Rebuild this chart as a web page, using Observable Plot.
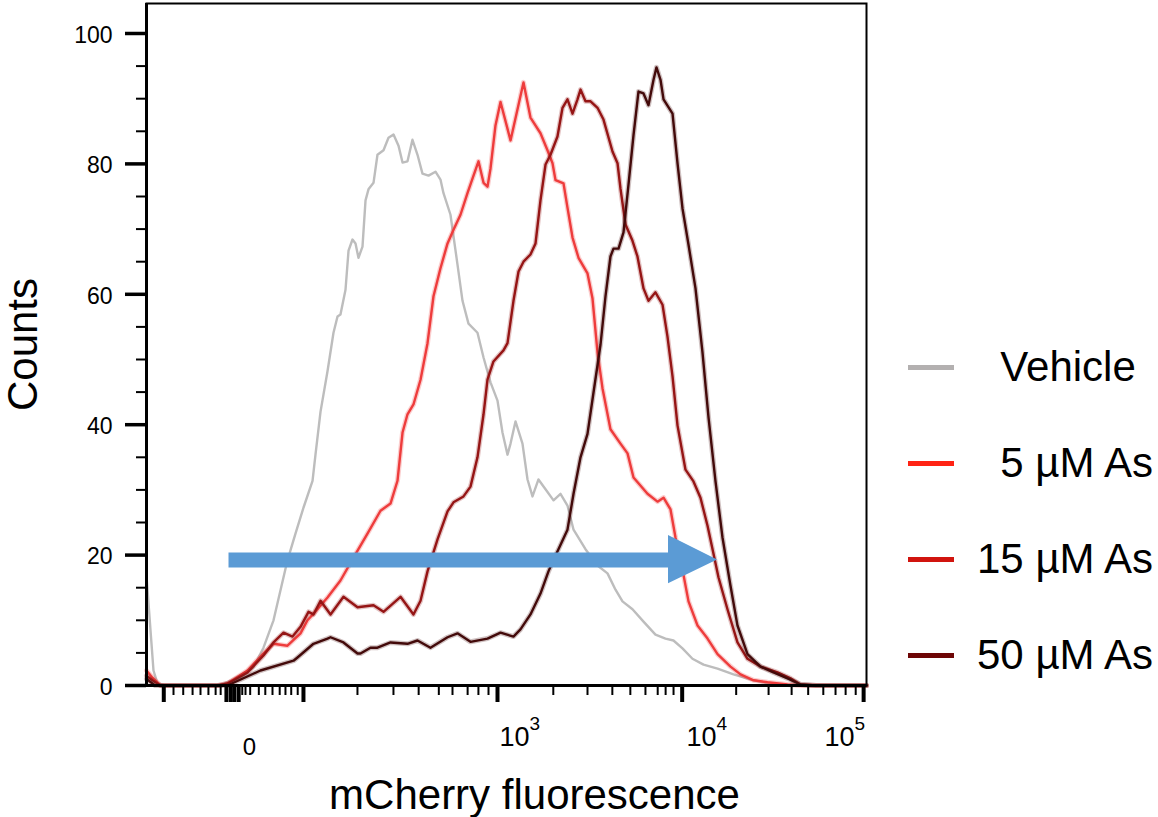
<!DOCTYPE html>
<html>
<head>
<meta charset="utf-8">
<script src="https://cdn.jsdelivr.net/npm/d3@7"></script>
<script src="https://cdn.jsdelivr.net/npm/@observablehq/plot@0.6"></script>
<style>
  html, body { margin: 0; padding: 0; background: #fff; }
  #wrap { position: relative; width: 1158px; height: 817px; font-family: "Liberation Sans", Arial, sans-serif; }
  #legend { position: absolute; left: 908px; top: 0; }
  .row { position: absolute; left: 0; height: 0; width: 250px; }
  .sw { position: absolute; left: 0; top: -2.5px; width: 46px; height: 5px; }
  .lb { position: absolute; left: 69px; top: -21px; height: 42px; line-height: 42px; font-size: 42px; white-space: pre; color: #000; }
</style>
</head>
<body>
<div id="wrap"><div id="legend"></div></div>
<script>
// ---- data (x in display channels 0–1000 of the biexponential axis, y in counts) ----
const seriesNames = ["Vehicle", "5 µM As", "15 µM As", "50 µM As"];
const legendLabels = ["  Vehicle", "  5 µM As", "15 µM As", "50 µM As"];
const lineColors = ["#bdbdbd", "#ee3c3c", "#951515", "#430a0a"];
const legendColors = ["#b3b0b0", "#ff2314", "#d1140e", "#6e0606"];

const vehicle = [[0,16.8],[5.6,8.4],[9.7,2.3],[15.3,0.3],[26,0],[96,0],[106.9,0.3],[130.6,1.2],[148.6,2.8],[162.5,5.8],[176.4,10.0],[186.1,14.6],[195.8,19.2],[206.9,23.3],[218.1,27.3],[230.6,31.4],[234.7,35.4],[241.7,42.0],[251.4,48.2],[259.7,54.1],[265.3,56.6],[269.4,56.9],[276.4,60.7],[280.6,66.7],[286.1,68.4],[290.3,67.8],[294.4,65.6],[300,67.3],[304.2,74.4],[308.3,76.1],[315.3,77.1],[320.8,81.4],[329.2,82.1],[336.1,84.0],[343.1,84.5],[350,82.8],[355.6,80.2],[362.5,80.4],[369.4,83.7],[376.4,81.4],[383.3,78.5],[391.7,78.2],[401.4,78.8],[408.3,77.6],[412.5,75.5],[422.2,72.2],[426.4,68.9],[431.9,64.6],[438.9,59.0],[447.2,55.5],[459.7,54.1],[468.1,50.3],[477.8,46.5],[487.5,43.7],[494.4,38.8],[501.4,35.4],[505.6,37.1],[512.5,40.5],[522.2,37.1],[529.2,31.6],[536.1,29.0],[544.4,31.6],[554.2,30.1],[565.3,28.4],[575,29.4],[584.7,27.6],[593.1,23.9],[609.7,20.9],[626.4,18.4],[640.3,17.2],[651.4,14.7],[661.1,12.9],[675,11.7],[690.3,9.8],[706.9,7.8],[720.8,7.2],[731.9,6.9],[744.4,5.7],[758.3,4.1],[773.6,3.2],[793.1,2.6],[815.3,1.7],[843.1,0.8],[870.8,0.15],[908,0],[1000,0]];

const as5 = [[0,2.3],[8.3,1.2],[19.4,0],[100,0],[112.5,0.3],[140.3,2.3],[162.5,4.9],[176.4,6.4],[195.8,6.1],[213.9,8.0],[223.6,10.0],[231.9,11.0],[251.4,13.5],[269.4,16.1],[287.5,19.6],[306.9,23.3],[325.0,26.8],[338.9,27.9],[348.6,31.4],[355.6,38.8],[362.5,41.6],[370.8,43.1],[380.6,46.9],[390.3,52.5],[398.6,59.7],[408.3,64.0],[418.1,67.8],[426.4,69.9],[436.1,72.2],[445.8,75.5],[454.2,78.2],[461.1,80.4],[468.1,77.1],[473.6,76.5],[477.8,79.3],[484.7,85.9],[491.7,89.5],[505.6,83.6],[523.6,92.5],[533.3,87.1],[547.2,84.7],[556.9,82.1],[563.9,80.1],[568.1,77.5],[579.2,77.0],[584.7,73.3],[591.7,68.7],[600.0,65.6],[612.5,63.2],[619.4,59.4],[626.4,51.1],[633.3,45.6],[644.4,39.3],[658.3,37.1],[668.1,35.6],[676.4,31.9],[695.8,29.4],[709.7,28.2],[718.1,28.8],[727.8,27.0],[734.7,22.7],[744.4,17.8],[752.8,12.9],[765.3,9.2],[779.2,7.2],[793.1,4.8],[811.1,2.9],[825.0,1.7],[843.1,0.8],[862.5,0.5],[890.3,0.15],[908.3,0],[1000,0]];

const as15 = [[0,1.5],[8.3,0.8],[19.4,0],[100,0],[112.5,0.3],[140.3,2.0],[162.5,4.6],[176.4,6.6],[190.3,8.1],[202.8,7.5],[213.9,9.0],[225.0,11.3],[231.9,10.9],[241.7,13.0],[255.6,10.9],[273.6,13.6],[293.1,12.0],[315.3,12.3],[329.2,11.3],[352.8,13.6],[370.8,10.9],[380.6,13.0],[390.3,17.5],[404.2,22.4],[418.1,26.7],[426.4,28.1],[440.3,29.0],[450.0,30.5],[459.7,35.0],[468.1,41.6],[473.6,46.9],[481.9,49.7],[495.8,51.4],[501.4,52.5],[509.7,59.0],[516.7,63.5],[523.6,65.0],[533.3,66.1],[540.3,67.8],[547.2,74.4],[554.2,79.9],[561.1,81.4],[570.8,84.2],[577.8,88.6],[584.7,89.9],[591.7,87.7],[598.6,89.9],[602.8,91.4],[609.7,89.6],[616.7,89.6],[626.4,88.6],[634.7,86.8],[647.2,81.9],[654.2,80.1],[658.3,76.2],[665.3,70.7],[675.0,68.2],[681.9,65.8],[690.3,60.9],[697.2,59.0],[706.9,60.3],[716.7,58.4],[723.6,53.5],[730.6,47.4],[737.5,39.9],[748.6,33.1],[759.7,31.3],[769.4,28.8],[779.2,24.5],[787.5,20.2],[794.4,16.6],[806.9,11.7],[820.8,6.6],[834.7,4.1],[852.8,2.9],[876.4,2.0],[894.4,1.1],[908.3,0.15],[930,0],[1000,0]];

const as50 = [[0,1.0],[12,0],[100,0],[112.5,0],[158.3,2.3],[204.2,3.8],[209.7,4.3],[231.9,6.4],[251.4,7.2],[255.6,7.4],[273.6,6.6],[293.1,4.9],[297.2,4.9],[311.1,5.8],[320.8,5.8],[338.9,6.6],[362.5,6.4],[376.4,6.9],[394.4,5.8],[418.1,7.4],[431.9,8.0],[450,6.7],[473.6,7.2],[491.7,8.1],[509.7,7.5],[519.4,8.6],[533.3,10.9],[547.2,14.1],[558.3,17.5],[565.3,19.3],[572.2,20.9],[584.7,23.9],[593.1,29.4],[602.8,35.0],[612.5,38.6],[620.8,44.9],[630.6,52.3],[637.5,59.7],[644.4,65.8],[648.6,67.0],[655.6,67.0],[662.5,69.5],[669.4,76.8],[676.4,84.4],[683.3,91.1],[690.3,90.8],[697.2,89.0],[704.2,92.9],[708.3,94.8],[713.9,92.9],[718.1,89.9],[730.6,87.7],[737.5,80.1],[744.4,73.2],[752.8,67.6],[762.5,60.9],[772.2,51.1],[780.6,41.1],[790.3,31.3],[800,22.7],[811.1,15.3],[820.8,9.2],[834.7,4.8],[852.8,2.9],[870.8,2.0],[890.3,1.1],[908.3,0.15],[930,0],[1000,0]];

const seriesPoints = [vehicle, as5, as15, as50];

// axis ticks (display channels)
const yMajor = [0, 20, 40, 60, 80, 100];
const yMinor = [5, 10, 15, 25, 30, 35, 45, 50, 55, 65, 70, 75, 85, 90, 95];
const xMajor = [24, 111, 117, 122, 128, 218, 487.5, 744, 996];
const xMinor = [37.5, 51, 64, 75, 86, 96, 103, 133, 137.5, 144, 156, 165, 175, 185, 193, 201, 210, 293, 343, 378, 406, 425, 446, 461, 475, 565, 612.5, 647, 672, 693, 710, 721, 732, 819, 864, 896, 919, 940, 957, 971, 985];
const zeroLabel = [{pos: 143, text: "0"}];
const decadeLabels = [{pos: 511, base: "10", exp: "3"}, {pos: 771, base: "10", exp: "4"}, {pos: 962.5, base: "10", exp: "5"}];

// blue annotation arrow
const arrowShaft = [{x1: 113.9, x2: 727.8, y: 19.25}];
const arrowHead = [{x: 725, lo: 15.6, hi: 23.0}, {x: 793.1, lo: 19.25, hi: 19.25}];

// ---- build ----
const rows = seriesNames.flatMap((name, i) => seriesPoints[i].map(([x, y]) => ({series: name, x, y})));

const lineMarks = seriesNames.flatMap((name, i) => {
  const d = rows.filter(r => r.series === name);
  const m = [];
  if (i > 0) m.push(Plot.line(d, {x: "x", y: "y", stroke: lineColors[i], strokeWidth: 5, strokeOpacity: 0.25}));
  m.push(Plot.line(d, {x: "x", y: "y", stroke: lineColors[i], strokeWidth: 2.4}));
  return m;
});

const chart = Plot.plot({
  width: 1158,
  height: 817,
  marginTop: 3,
  marginBottom: 132,
  marginLeft: 146,
  marginRight: 292,
  x: {domain: [0, 1000]},
  y: {domain: [0, 104.6]},
  style: {fontFamily: "'Liberation Sans', Arial, sans-serif", background: "transparent", overflow: "visible", color: "#000"},
  marks: [
    ...lineMarks,
    Plot.link(arrowShaft, {x1: "x1", x2: "x2", y1: "y", y2: "y", stroke: "#5b9bd5", strokeWidth: 15}),
    Plot.areaY(arrowHead, {x: "x", y1: "lo", y2: "hi", fill: "#5b9bd5"}),
    Plot.frame({stroke: "#000", strokeWidth: 2}),
    Plot.ruleX([0], {stroke: "#000", strokeWidth: 3}),
    Plot.ruleY([0], {stroke: "#000", strokeWidth: 3}),
    Plot.axisY(yMajor, {tickSize: 21, strokeWidth: 3.5, fill: "none", label: null}),
    Plot.axisY(yMinor, {tickSize: 10, strokeWidth: 2, fill: "none", label: null}),
    Plot.axisY(yMajor, {tickSize: 0, tickPadding: 34, fontSize: 23, dy: 2, label: null}),
    Plot.axisX(xMajor, {tickSize: 17, strokeWidth: 4, fill: "none", label: null}),
    Plot.axisX(xMinor, {tickSize: 10, strokeWidth: 2, fill: "none", label: null}),
    Plot.text(zeroLabel, {x: "pos", text: "text", frameAnchor: "bottom", dy: 62, fontSize: 24, textAnchor: "middle", lineAnchor: "middle"}),
    Plot.text(decadeLabels, {x: "pos", text: "base", frameAnchor: "bottom", dy: 52, fontSize: 27, textAnchor: "middle", lineAnchor: "middle"}),
    Plot.text(decadeLabels, {x: "pos", text: "exp", frameAnchor: "bottom", dy: 38, dx: 15, fontSize: 19, textAnchor: "start", lineAnchor: "middle"}),
    Plot.text(["mCherry fluorescence"], {frameAnchor: "bottom", dy: 110, dx: 28, fontSize: 42, textAnchor: "middle", lineAnchor: "middle"}),
    Plot.text(["Counts"], {frameAnchor: "left", dx: -123, rotate: -90, fontSize: 42, textAnchor: "middle", lineAnchor: "middle"})
  ]
});

const wrap = document.getElementById("wrap");
wrap.insertBefore(chart, wrap.firstChild);

const legend = document.getElementById("legend");
legendLabels.forEach((label, i) => {
  const row = document.createElement("div");
  row.className = "row";
  row.style.top = (367 + i * 96) + "px";
  const sw = document.createElement("div");
  sw.className = "sw";
  sw.style.background = legendColors[i];
  const lb = document.createElement("div");
  lb.className = "lb";
  lb.textContent = label;
  row.appendChild(sw);
  row.appendChild(lb);
  legend.appendChild(row);
});
</script>
</body>
</html>
